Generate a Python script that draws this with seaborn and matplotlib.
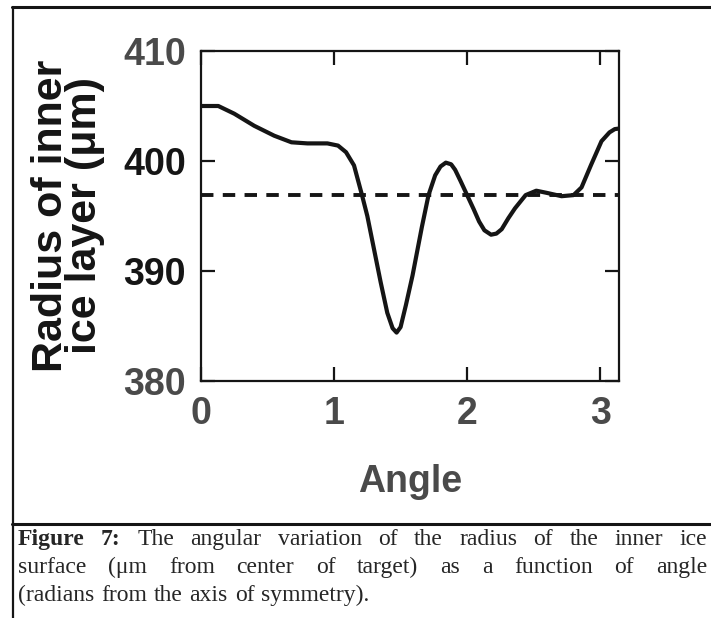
import numpy as np
import matplotlib
matplotlib.use("Agg")
import matplotlib.pyplot as plt
import seaborn as sns
from matplotlib import font_manager
from matplotlib.font_manager import FontProperties
from matplotlib.lines import Line2D

# ---- data ----
ANGLE = [0.00, 0.13, 0.25, 0.40, 0.55, 0.68, 0.80, 0.95, 1.03, 1.09,
         1.15, 1.21, 1.25, 1.30, 1.35, 1.40, 1.44, 1.47, 1.50, 1.54,
         1.59, 1.66, 1.71, 1.76, 1.80, 1.84, 1.88, 1.91, 1.95, 2.00,
         2.05, 2.09, 2.13, 2.18, 2.22, 2.26, 2.31, 2.36, 2.44, 2.52,
         2.60, 2.71, 2.80, 2.86, 2.93, 3.01, 3.07, 3.11, 3.1416]
RADIUS = [405.0, 405.0, 404.3, 403.2, 402.3, 401.7, 401.6, 401.6, 401.4, 400.8,
          399.6, 396.9, 395.0, 392.0, 389.0, 386.2, 384.8, 384.4, 384.9, 386.9,
          389.6, 394.0, 396.9, 398.7, 399.5, 399.85, 399.7, 399.2, 398.2, 396.9,
          395.6, 394.5, 393.7, 393.3, 393.4, 393.8, 394.8, 395.7, 396.9, 397.3,
          397.1, 396.8, 396.9, 397.6, 399.6, 401.8, 402.6, 402.9, 402.95]
MEAN_RADIUS = 396.9

X_TICKS = [0, 1, 2, 3]
Y_TICKS = [380, 390, 400, 410]
X_LABEL = "Angle"
Y_LABEL = "Radius of inner\nice layer (μm)"

CAPTION = [
    [("Figure", "bold"), ("7:", "bold"), ("The", "normal"), ("angular", "normal"),
     ("variation", "normal"), ("of", "normal"), ("the", "normal"), ("radius", "normal"),
     ("of", "normal"), ("the", "normal"), ("inner", "normal"), ("ice", "normal")],
    [("surface", "normal"), ("(μm", "normal"), ("from", "normal"), ("center", "normal"),
     ("of", "normal"), ("target)", "normal"), ("as", "normal"), ("a", "normal"),
     ("function", "normal"), ("of", "normal"), ("angle", "normal")],
    [("(radians", "normal"), ("from", "normal"), ("the", "normal"), ("axis", "normal"),
     ("of", "normal"), ("symmetry).", "normal")],
]

# ---- style ----
sns.set_style("ticks")
SANS = "Liberation Sans"
SERIF = "Liberation Serif"
plt.rcParams["font.family"] = [SANS, "DejaVu Sans"]

# a true narrow face if one is installed, else shrink the regular one
installed = {f.name for f in font_manager.fontManager.ttflist}
if "Liberation Sans Narrow" in installed:
    NARROW, TICK_SIZE = "Liberation Sans Narrow", 29
else:
    NARROW, TICK_SIZE = SANS, 27

INK = "#151515"
GREY = "#4a4a4a"

W, H = 711, 618
fig = plt.figure(figsize=(W / 100, H / 100), dpi=100)
ax = fig.add_axes([201 / W, 1 - 381 / H, 418 / W, 330 / H])

sns.lineplot(x=ANGLE, y=RADIUS, ax=ax, color=INK, linewidth=3.0,
             estimator=None, sort=False)
ax.axhline(MEAN_RADIUS, color=INK, linewidth=2.8, dashes=(3.2, 2.4))

ax.set_xlim(0, np.pi)
ax.set_ylim(380, 410)
ax.set_xticks(X_TICKS)
ax.set_yticks(Y_TICKS)

for s in ax.spines.values():
    s.set_visible(True)
    s.set_linewidth(1.6)
    s.set_color(INK)

ax.tick_params(axis="both", which="major", direction="in", length=10, width=1.6,
               color=INK, top=True, right=True)
ax.tick_params(axis="x", pad=11)
ax.tick_params(axis="y", pad=11)

for lbl in ax.get_xticklabels():
    lbl.set_fontfamily(NARROW)
    lbl.set_fontweight("bold")
    lbl.set_fontsize(TICK_SIZE)
    lbl.set_color(GREY)
for lbl in ax.get_yticklabels():
    lbl.set_fontfamily(NARROW)
    lbl.set_fontweight("bold")
    lbl.set_fontsize(TICK_SIZE)
    lbl.set_color(GREY if lbl.get_text() in ("410", "380") else INK)

ax.set_xlabel(X_LABEL, fontfamily=NARROW, fontweight="bold", fontsize=TICK_SIZE,
              color=GREY)
ax.xaxis.set_label_coords(0.5, -0.25)
ax.set_ylabel(Y_LABEL, fontfamily=SANS, fontweight="bold", fontsize=31, color=INK,
              linespacing=0.8)
ax.yaxis.set_label_coords(-0.23, 0.5)

# ---- frame around the figure ----
fig.add_artist(Line2D([12 / W, 1], [1 - 7 / H, 1 - 7 / H], color=INK, lw=2.2,
                      transform=fig.transFigure))
fig.add_artist(Line2D([12.5 / W, 12.5 / W], [0, 1 - 7 / H], color=INK, lw=1.6,
                      transform=fig.transFigure))
fig.add_artist(Line2D([12 / W, 1], [1 - 524 / H, 1 - 524 / H], color=INK, lw=2.2,
                      transform=fig.transFigure))

# ---- justified caption ----
renderer = fig.canvas.get_renderer()
left, right = 18, 707
baselines = [545, 573, 601]
cap_size = 17
for i, words in enumerate(CAPTION):
    props = [FontProperties(family=SERIF, weight=w, size=cap_size) for _, w in words]
    widths = [renderer.get_text_width_height_descent(t, p, ismath=False)[0]
              for (t, _), p in zip(words, props)]
    if i < len(CAPTION) - 1:
        gap = (right - left - sum(widths)) / (len(words) - 1)
    else:
        gap = renderer.get_text_width_height_descent(" ", props[0], ismath=False)[0] + 1
    x = left
    for (t, w), p, wd in zip(words, props, widths):
        fig.text(x / W, 1 - baselines[i] / H, t, fontproperties=p, color="#262626",
                 ha="left", va="baseline")
        x += wd + gap

fig.savefig("out.png", dpi=100)
